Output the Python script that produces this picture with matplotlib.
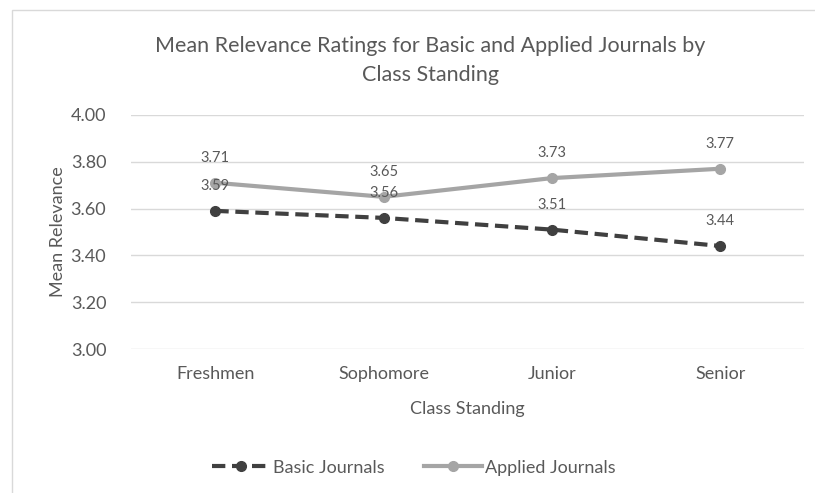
import matplotlib.pyplot as plt
from matplotlib.patches import Rectangle

# Dados
classes = ['Freshmen', 'Sophomore', 'Junior', 'Senior']
basic = [3.59, 3.56, 3.51, 3.44]
applied = [3.71, 3.65, 3.73, 3.77]

plt.rcParams['font.family'] = ['Lato', 'DejaVu Sans']

fig = plt.figure(figsize=(8.15, 4.93), dpi=100)
ax = fig.add_axes([0.161, 0.292, 0.826, 0.475])

x = range(len(classes))
ax.plot(x, basic, color='#404040', lw=3, ls=(0, (3.2, 1.6)), marker='o', ms=7,
        label='Basic Journals', zorder=3)
ax.plot(x, applied, color='#a5a5a5', lw=3, marker='o', ms=7,
        label='Applied Journals', zorder=3)

for i, v in enumerate(basic):
    ax.annotate(f'{v:.2f}', (i, v), xytext=(0, 13), textcoords='offset points',
                ha='center', va='bottom', fontsize=10.5, color='#595959')
for i, v in enumerate(applied):
    ax.annotate(f'{v:.2f}', (i, v), xytext=(0, 13), textcoords='offset points',
                ha='center', va='bottom', fontsize=10.5, color='#595959')

ax.set_xlim(-0.5, 3.5)
ax.set_ylim(3.0, 4.0)
ax.set_yticks([3.0, 3.2, 3.4, 3.6, 3.8, 4.0])
ax.set_yticklabels(['3.00', '3.20', '3.40', '3.60', '3.80', '4.00'])
ax.set_xticks(list(x))
ax.set_xticklabels(classes)
ax.tick_params(axis='both', length=0, labelsize=13, labelcolor='#595959')
ax.tick_params(axis='y', pad=18)
ax.tick_params(axis='x', pad=12)
ax.grid(axis='y', color='#d9d9d9', lw=1)
ax.set_axisbelow(True)
for s in ax.spines.values():
    s.set_visible(False)

ax.set_xlabel('Class Standing', fontsize=13, color='#595959', labelpad=14)
ax.set_ylabel('Mean Relevance', fontsize=13, color='#595959', labelpad=3)

fig.text(0.528, 0.878, 'Mean Relevance Ratings for Basic and Applied Journals by\nClass Standing',
         ha='center', va='center', fontsize=15.5, color='#595959', linespacing=1.55)

ax.legend(loc='center', bbox_to_anchor=(0.42, -0.507), ncol=2, frameon=False,
          fontsize=13, labelcolor='#595959', handlelength=3.2, columnspacing=2.2,
          handletextpad=0.15)

fig.patches.append(Rectangle((0.015, -0.01), 1.0, 0.99, transform=fig.transFigure,
                             fill=False, edgecolor='#d9d9d9', lw=1))

fig.savefig('out.png', dpi=100, facecolor='white')
